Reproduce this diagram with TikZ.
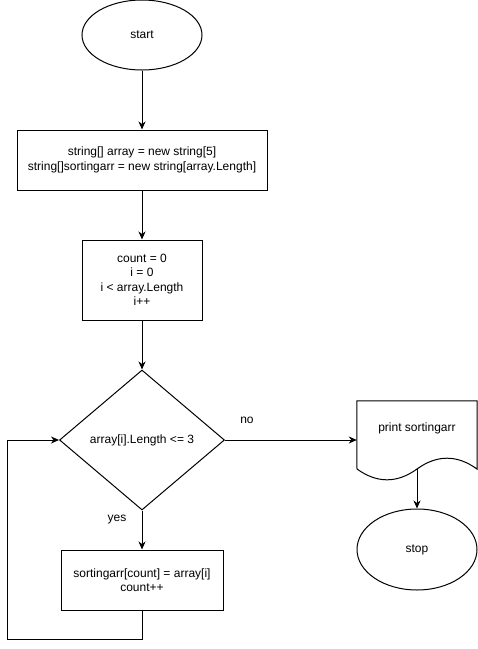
\documentclass[tikz,border=0pt]{standalone}
\usepackage{fontspec}
\setmainfont{Liberation Sans}
\usetikzlibrary{shapes.geometric,arrows.meta}
\tikzset{
  base/.style={draw=black, line width=1pt, inner sep=0pt, align=center, font=\fontsize{12}{14.5}\selectfont},
  term/.style={base, ellipse, minimum width=120pt},
  procbox/.style={base, rectangle},
  decision/.style={base, diamond, minimum width=165pt, minimum height=140pt},
  lbl/.style={inner sep=0pt, font=\fontsize{12}{14.5}\selectfont},
  flow/.style={line width=1pt, -{Stealth[length=8pt,width=7pt,inset=2.5pt]}},
  plain/.style={line width=1pt}
}
\begin{document}
\begin{tikzpicture}[x=1pt,y=-1pt]
\useasboundingbox[fill=white] (0,0) rectangle (478,649);
\node[term, minimum height=70pt] (start) at (142,35) {start};
\node[procbox, minimum width=250pt, minimum height=60pt] (b1) at (142,160) {string[] array = new string[5]\\string[]sortingarr = new string[array.Length]};
\node[procbox, minimum width=120pt, minimum height=80pt] (b2) at (142,280) {count = 0\\i = 0\\i {<} array.Length\\i++};
\node[decision] (dia) at (142,440) {array[i].Length {<}= 3};
\node[procbox, minimum width=162pt, minimum height=60pt] (b3) at (142,580) {sortingarr[count] = array[i]\\count++};
\node[inner sep=0pt, minimum width=120pt, minimum height=68pt] (doc) at (417,435) {};
\node[lbl] (doctext) at (417,428) {print sortingarr};
\coordinate (docb) at (417,469);
\draw[plain] (doc.north west) -- (doc.north east) -- (477,469)
  .. controls (457,454.6) and (437,454.6) .. (docb)
  .. controls (397,483.4) and (377,483.4) .. (357,469) -- cycle;
\node[term, minimum height=81pt] (stop) at (417,549.5) {stop};
\node[lbl] (no) at (247,420) {no};
\node[lbl] (yes) at (117,520) {yes};
\coordinate (lp1) at (142,639);
\coordinate (lp2) at (7,639);
\coordinate (lp3) at (7,440);
\draw[flow] (start) -- (b1);
\draw[flow] (b1) -- (b2);
\draw[flow] (b2) -- (dia);
\draw[flow] (dia.east) -- (doc.west |- dia.east);
\draw[flow] (docb) -- (stop);
\draw[flow] (dia.south) -- (b3.north);
\draw[flow] (b3.south) -- (lp1) -- (lp2) -- (lp3) -- (dia.west);
\end{tikzpicture}
\end{document}
